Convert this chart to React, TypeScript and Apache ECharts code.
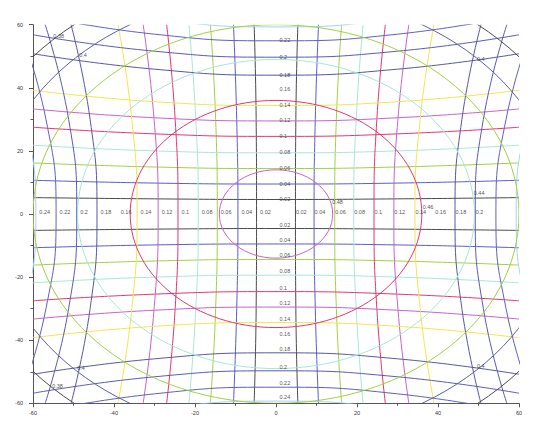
import React, { useEffect, useRef } from 'react';
import * as echarts from 'echarts';

// ---------- data ----------
const AXIS_TICKS = [-60, -40, -20, 0, 20, 40, 60];

// contour levels of the two straight-ish families
const LEVELS = [0.02, 0.04, 0.06, 0.08, 0.1, 0.12, 0.14, 0.16, 0.18, 0.2, 0.22, 0.24];

// "vertical" family: |x| of each contour at y = 0, |y| = 30, |y| = 60
const VX0 = [4.8, 9.4, 14.5, 19.2, 24.2, 29.1, 34.3, 39.2, 44.2, 49.2, 54.3, 59.3];
const VX30 = [4.9, 9.7, 14.9, 19.8, 24.9, 30.1, 35.6, 40.6, 45.9, 51.2, 56.8, 62.1];
const VX60 = [5.4, 10.5, 16.2, 21.5, 27.0, 32.8, 39.0, 44.5, 50.6, 57.0, 63.5, 69.5];

// "horizontal" family: |y| of each contour at x = 0, |x| = 30, |x| = 60
const HY0 = [4.6, 9.5, 14.4, 19.4, 24.6, 29.5, 34.4, 39.4, 44.0, 49.7, 54.9, 59.3];
const HY30 = [4.8, 9.8, 14.9, 20.0, 25.4, 30.5, 35.6, 40.9, 45.9, 51.6, 57.0, 62.0];
const HY60 = [5.2, 10.7, 16.2, 21.8, 27.5, 33.3, 39.2, 45.0, 50.8, 56.8, 63.0, 69.0];

// circular family: level and radius
const CIRCLE_LEVELS = [0.38, 0.4, 0.42, 0.44, 0.46, 0.48];
const CIRCLE_R = [78, 70, 60, 49, 36, 14];

// label anchors of the circular family [text, x, y]
const CIRCLE_LABELS: [string, number, number][] = [
  ['0.48', 13.75, 3.9],
  ['0.46', 36.1, 2.3],
  ['0.44', 48.7, 6.7],
  ['0.4', 49.5, 49.2],
  ['0.4', 49.5, -48.2],
  ['0.4', -48.7, 50.5],
  ['0.4', -49.2, -48.7],
  ['0.38', -55.1, 56.5],
  ['0.38', -55.4, -54.6],
];

// how many labels are shown on each side
const V_LEFT_LABELS = 12;
const V_RIGHT_LABELS = 10;
const H_TOP_LABELS = 11;
const H_BOTTOM_LABELS = 12;

// ---------- styles ----------
const PALETTE = [
  '#4a4a4a', '#5b5bcc', '#a2d043', '#a9e5da', '#e6366c', '#c562cf',
  '#f2e64c', '#ffffff', '#5656a6', '#5a5ab4', '#5f5fc2', '#a6d0f2',
];
const CIRCLE_PALETTE = ['#4a4a4a', '#5b5bb8', '#a2d043', '#a9e5da', '#e6366c', '#c562cf'];
const FONT = 'Liberation Sans, Arial, sans-serif';

function buildOption() {
  const series: any[] = [];

  LEVELS.forEach((v, i) => {
    [-1, 1].forEach((s) => {
      series.push({
        type: 'line',
        name: 'v' + v + s,
        smooth: true,
        symbol: 'none',
        silent: true,
        clip: true,
        z: PALETTE[i] === '#ffffff' ? 1 : 2,
        lineStyle: { color: PALETTE[i], width: 1 },
        data: [
          [s * VX60[i], -60],
          [s * VX30[i], -30],
          [s * VX0[i], 0],
          [s * VX30[i], 30],
          [s * VX60[i], 60],
        ],
      });
      series.push({
        type: 'line',
        name: 'h' + v + s,
        smooth: true,
        symbol: 'none',
        silent: true,
        clip: true,
        z: PALETTE[i] === '#ffffff' ? 1 : 2,
        lineStyle: { color: PALETTE[i], width: 1 },
        data: [
          [-60, s * HY60[i]],
          [-30, s * HY30[i]],
          [0, s * HY0[i]],
          [30, s * HY30[i]],
          [60, s * HY60[i]],
        ],
      });
    });
  });

  series.push({
    type: 'custom',
    clip: true,
    silent: true,
    z: 3,
    data: CIRCLE_R.map((r) => [r, 0]),
    renderItem: (params: any, api: any) => {
      const r = api.value(0);
      const c = api.coord([0, 0]);
      const sz = api.size([r, r]);
      return {
        type: 'ellipse',
        shape: { cx: c[0], cy: c[1], rx: sz[0], ry: sz[1] },
        style: { fill: 'none', stroke: CIRCLE_PALETTE[params.dataIndex], lineWidth: 1 },
      };
    },
  });

  const labelSeries = (data: any[], distance: number, offset: number[]) => ({
    type: 'scatter',
    silent: true,
    symbolSize: 1,
    itemStyle: { color: 'rgba(0,0,0,0)' },
    z: 10,
    data,
    label: {
      show: true,
      position: 'right',
      distance,
      offset,
      formatter: (p: any) => p.data[2],
      fontSize: 5.5,
      color: '#222',
      fontFamily: FONT,
    },
  });

  series.push(
    labelSeries(
      LEVELS.slice(0, V_LEFT_LABELS).map((v, i) => [-VX0[i], 0, String(v)]),
      3,
      [0, -2]
    )
  );
  series.push(
    labelSeries(
      LEVELS.slice(0, V_RIGHT_LABELS).map((v, i) => [VX0[i], 0, String(v)]),
      0,
      [0, -2]
    )
  );
  series.push(
    labelSeries(
      LEVELS.slice(0, H_TOP_LABELS).map((v, i) => [0, HY0[i], String(v)]),
      3,
      [0, -0.5]
    )
  );
  series.push(
    labelSeries(
      LEVELS.slice(0, H_BOTTOM_LABELS).map((v, i) => [0, -HY0[i], String(v)]),
      3,
      [0, -4]
    )
  );
  series.push(
    labelSeries(
      CIRCLE_LABELS.map(([t, x, y]) => [x, y, t]),
      0,
      [0, 0]
    )
  );

  const axisCommon = {
    type: 'value',
    min: AXIS_TICKS[0],
    max: AXIS_TICKS[AXIS_TICKS.length - 1],
    interval: AXIS_TICKS[1] - AXIS_TICKS[0],
    axisLine: { show: true, onZero: false, lineStyle: { color: '#555', width: 1 } },
    axisTick: { show: true, inside: false, length: 4, lineStyle: { color: '#555' } },
    minorTick: { show: true, splitNumber: 2, length: 2.5, lineStyle: { color: '#555' } },
    splitLine: { show: false },
    minorSplitLine: { show: false },
  };

  return {
    animation: false,
    backgroundColor: '#ffffff',
    grid: { left: 33, right: 21, top: 24.7, bottom: 30.7, containLabel: false },
    xAxis: {
      ...axisCommon,
      axisLabel: { fontSize: 5.5, color: '#333', margin: 7, fontFamily: FONT },
    },
    yAxis: {
      ...axisCommon,
      axisLabel: { fontSize: 5.5, color: '#333', margin: 10, fontFamily: FONT },
    },
    series,
  };
}

export default function App() {
  const ref = useRef<HTMLDivElement>(null);
  useEffect(() => {
    if (!ref.current) return;
    const chart = echarts.init(ref.current, undefined, { renderer: 'svg' });
    chart.setOption(buildOption() as any);
    return () => chart.dispose();
  }, []);
  return (
    <div
      ref={ref}
      style={{ position: 'fixed', left: 0, top: 0, width: 540, height: 434, background: '#fff' }}
    />
  );
}
